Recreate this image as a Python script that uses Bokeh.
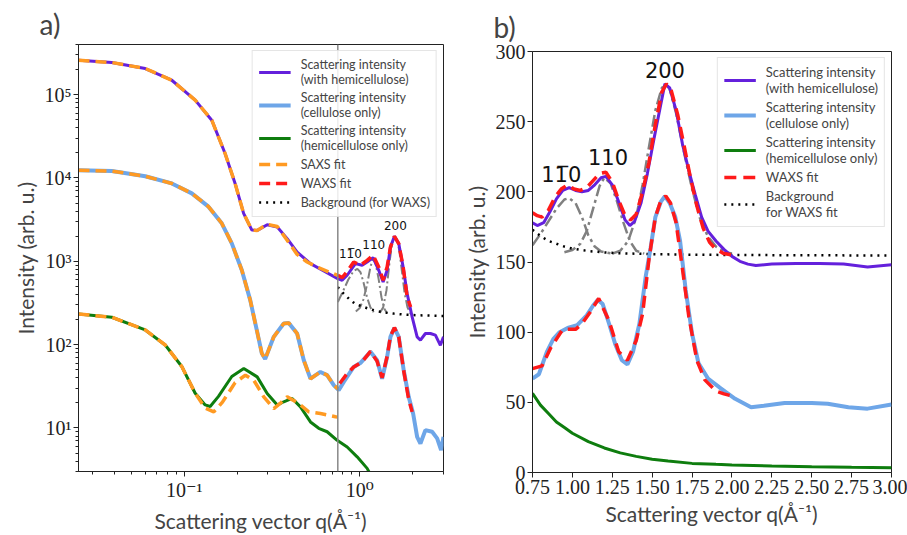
from bokeh.plotting import figure
from bokeh.models import (Range1d, FixedTicker, CustomJSTickFormatter, PrintfTickFormatter,
                          Legend, LegendItem, Span, Label)
from bokeh.layouts import row, column
from bokeh.embed import file_html
from bokeh.resources import INLINE

# ---------------- Panel a (log-log) ----------------
purple_a_q = [0.025, 0.0387, 0.060, 0.085, 0.1155, 0.1436, 0.171, 0.195, 0.218, 0.243, 0.261, 0.297, 0.339,
              0.386, 0.44, 0.524, 0.624, 0.749, 0.794, 0.848, 0.945, 1.032, 1.102, 1.192, 1.283, 1.359, 1.432,
              1.496, 1.576, 1.668, 1.767, 1.862, 1.988, 2.123, 2.217, 2.366, 2.527, 2.698, 2.88, 3.0]
purple_a_I = [2.59e5, 2.43e5, 2.06e5, 1.49e5, 8.6e4, 4.94e4, 1.97e4, 8.6e3, 3.76e3, 2.37e3, 2.35e3, 2.75e3, 2.58e3,
              1.87e3, 1.29e3, 938, 765, 620, 592, 680, 938, 895, 981, 1108, 780, 565, 780,
              1484, 1994, 1630, 855, 410, 215, 124, 113, 136, 136, 130, 98, 124]

blue_a_q = [0.025, 0.0387, 0.060, 0.085, 0.1105, 0.1375, 0.1637, 0.1867, 0.2128, 0.2376, 0.259, 0.2766, 0.2892,
            0.3237, 0.369, 0.394, 0.44, 0.48, 0.524, 0.597, 0.652, 0.711, 0.759, 0.811, 0.924, 1.008, 1.151,
            1.256, 1.341, 1.432, 1.496, 1.576, 1.668, 1.781, 1.901, 2.014, 2.123, 2.217, 2.366, 2.584, 2.76,
            2.908, 3.0]
blue_a_I = [1.24e4, 1.21e4, 1.05e4, 8.6e3, 6.54e3, 4.53e3, 2.86e3, 1.64e3, 786, 344, 150, 79, 67,
            124, 179, 182, 136, 65, 39, 47, 43, 32.6, 28.4, 35.7, 54, 60, 82,
            65, 39, 71, 124, 159, 124, 49, 23.6, 14.9, 7.8, 6.5, 9.4, 9.0, 7.5,
            5.4, 7.8]

green_a_q = [0.025, 0.0387, 0.060, 0.078, 0.0969, 0.1155, 0.1317, 0.1406, 0.1568, 0.1867, 0.2185, 0.2605, 0.297,
             0.339, 0.369, 0.412, 0.4595, 0.524, 0.584, 0.652, 0.7436, 0.848, 0.9665, 1.102, 1.18]
green_a_I = [233, 213, 150, 99, 54.6, 26.1, 18.9, 18.1, 23.9, 41.4, 51.7, 41, 25.9,
             18.8, 20.6, 22.6, 17.9, 11.8, 9.9, 9.0, 7.1, 5.9, 4.5, 3.27, 2.5]

saxs_top_q = [0.025, 0.0387, 0.060, 0.085, 0.1155, 0.1436, 0.171, 0.195, 0.218, 0.243, 0.261, 0.297, 0.339,
              0.386, 0.44, 0.502, 0.572, 0.666, 0.75]
saxs_top_I = [2.59e5, 2.43e5, 2.06e5, 1.49e5, 8.6e4, 4.94e4, 1.97e4, 8.6e3, 3.76e3, 2.37e3, 2.35e3, 2.78e3, 2.62e3,
              1.79e3, 1.21e3, 981, 855, 744, 679]

saxs_mid_q = [0.025, 0.0387, 0.060, 0.085, 0.1105, 0.1375, 0.1637, 0.1867, 0.2128, 0.2376, 0.259, 0.2766, 0.2892,
              0.3237, 0.369, 0.394, 0.44, 0.48, 0.524, 0.597, 0.652, 0.711, 0.75]
saxs_mid_I = [1.24e4, 1.21e4, 1.05e4, 8.6e3, 6.54e3, 4.53e3, 2.86e3, 1.64e3, 786, 344, 150, 79, 67,
              124, 179, 182, 136, 65, 39, 47, 43, 32.6, 29.5]

saxs_bot_q = [0.025, 0.0387, 0.060, 0.078, 0.0969, 0.1155, 0.1317, 0.1474, 0.1652, 0.195, 0.2233, 0.249, 0.284,
              0.3237, 0.355, 0.386, 0.449, 0.512, 0.597, 0.727, 0.75]
saxs_bot_I = [233, 213, 150, 99, 54.6, 26.1, 17.3, 15.6, 20.4, 35, 43, 37.4, 23.6,
              17.1, 20, 23.6, 19.7, 15.6, 14.9, 13.6, 13.5]

waxs_top_q = [0.75, 0.794, 0.85, 0.924, 1.009, 1.102, 1.192, 1.283, 1.359, 1.432, 1.496, 1.576, 1.668, 1.767,
              1.862, 1.95]
waxs_top_I = [679, 638, 760, 981, 895, 1028, 1180, 855, 592, 855, 1484, 1994, 1630, 855, 373, 283]

waxs_mid_q = [0.769, 0.848, 0.924, 1.032, 1.151, 1.256, 1.341, 1.432, 1.496, 1.576, 1.668, 1.781, 1.901, 1.988]
waxs_mid_I = [34.2, 45, 54, 62, 83, 63, 40, 72, 126, 160, 124, 48, 22, 15.6]

bg_a_q = [0.75, 0.80, 0.885, 0.95, 1.054, 1.15, 1.256, 1.40, 1.561, 1.80, 2.12, 2.50, 3.0]
bg_a_I = [490, 420, 341, 305, 283, 265, 252, 242, 236, 229, 225, 223, 221]

peak1_a_q = [0.75, 0.80, 0.86, 0.92, 0.97, 1.01, 1.05, 1.10, 1.15, 1.20]
peak1_a_I = [325, 430, 600, 760, 810, 740, 560, 370, 280, 245]
peak2_a_q = [0.95, 1.00, 1.05, 1.10, 1.15, 1.19, 1.23, 1.28, 1.33, 1.38, 1.43]
peak2_a_I = [250, 275, 350, 520, 850, 1080, 950, 620, 370, 270, 240]
peak3_a_q = [1.30, 1.36, 1.42, 1.48, 1.53, 1.58, 1.63, 1.68, 1.74, 1.80, 1.87, 1.95]
peak3_a_I = [240, 280, 450, 1000, 1650, 1990, 1850, 1350, 750, 420, 280, 235]

saxs_waxs_split = 0.75
peak_names = ["1\u0031\u03050", "110", "200"]
peak_lab_a_q = [0.885, 1.201, 1.597]
peak_lab_a_I = [1237, 1600, 2703]

# ---------------- Panel b (linear) ----------------
purple_b_q = [0.75, 0.78, 0.82, 0.86, 0.90, 0.94, 0.98, 1.02, 1.06, 1.10, 1.14, 1.18, 1.21, 1.25, 1.29, 1.33,
              1.36, 1.39, 1.43, 1.47, 1.51, 1.55, 1.58, 1.61, 1.65, 1.69, 1.73, 1.77, 1.81, 1.85, 1.90, 1.95,
              2.00, 2.05, 2.10, 2.15, 2.25, 2.40, 2.55, 2.70, 2.85, 3.00]
purple_b_I = [178, 176, 178, 186, 195, 201, 203, 201, 200, 201, 205, 210, 211, 205, 193, 180,
              176, 179, 192, 213, 237, 260, 277, 274, 258, 234, 215, 198, 182, 172, 165, 159,
              154, 150.5, 148.5, 147.5, 148.5, 149, 149, 148.5, 146.5, 148]

blue_b_q = [0.75, 0.79, 0.84, 0.88, 0.92, 0.97, 1.03, 1.09, 1.13, 1.16, 1.19, 1.23, 1.27, 1.31, 1.345, 1.38,
            1.42, 1.46, 1.49, 1.52, 1.555, 1.58, 1.61, 1.645, 1.675, 1.71, 1.75, 1.79, 1.85, 1.93, 2.02, 2.12,
            2.20, 2.33, 2.50, 2.60, 2.73, 2.85, 3.00]
blue_b_I = [67, 70, 86, 95, 100, 103, 105, 112, 119, 123, 120, 106, 91, 80, 77, 86,
            106, 140, 160, 182, 193, 197, 192, 182, 165, 130, 99, 78, 67, 60, 52.5, 46.5,
            47.5, 49.5, 49.5, 49, 46.5, 45.5, 48.5]

green_b_q = [0.75, 0.80, 0.85, 0.90, 0.95, 1.00, 1.10, 1.20, 1.30, 1.40, 1.50, 1.60, 1.75, 1.90, 2.00, 2.25,
             2.50, 2.75, 3.00]
green_b_I = [56.5, 48, 42, 36, 32, 28, 22, 17.5, 14, 11.5, 9.5, 8.2, 6.5, 5.8, 5.4, 4.6, 4.1, 3.7, 3.4]

waxs_b_top_q = [0.75, 0.78, 0.81, 0.85, 0.89, 0.93, 0.97, 1.01, 1.05, 1.09, 1.13, 1.17, 1.21, 1.25, 1.29, 1.33,
                1.365, 1.40, 1.44, 1.48, 1.52, 1.56, 1.59, 1.62, 1.66, 1.70, 1.74, 1.78, 1.82, 1.86, 1.90,
                1.95, 2.00]
waxs_b_top_I = [185, 183, 182, 187, 196, 202, 205, 202, 201, 203, 208, 213, 214, 207, 194, 183,
                180, 184, 200, 221, 248, 271, 277, 272, 255, 233, 210, 190, 174, 164, 159,
                156, 155]

waxs_b_mid_q = [0.75, 0.81, 0.865, 0.94, 1.02, 1.06, 1.11, 1.165, 1.23, 1.29, 1.345, 1.40, 1.44, 1.48, 1.52,
                1.555, 1.585, 1.615, 1.65, 1.69, 1.73, 1.78, 1.83, 1.90, 1.95, 2.00]
waxs_b_mid_I = [74, 76, 89, 102, 102, 106, 114, 124, 108, 86, 80, 94, 113, 152, 182,
                194, 197, 192, 178, 145, 111, 80, 66, 58, 56, 54.5]

bg_b_q = [0.75, 0.80, 0.85, 0.90, 0.95, 1.00, 1.10, 1.20, 1.30, 1.50, 1.75, 2.00, 2.50, 3.00]
bg_b_I = [173, 168.5, 165, 163, 161, 159.5, 157.8, 156.8, 156.2, 155.6, 155.2, 155, 154.8, 154.6]

peak1_b_q = [0.75, 0.80, 0.85, 0.90, 0.95, 0.98, 1.02, 1.06, 1.10, 1.14, 1.18, 1.25]
peak1_b_I = [162, 170, 179, 188, 194.5, 195.5, 192, 182, 169, 161, 157.5, 156]
peak2_b_q = [0.95, 1.00, 1.05, 1.09, 1.13, 1.17, 1.20, 1.24, 1.28, 1.32, 1.36, 1.40, 1.45]
peak2_b_I = [157, 158.5, 163, 172, 188, 204, 210, 206, 193, 178, 165, 158, 156]
peak3_b_q = [1.25, 1.30, 1.35, 1.40, 1.44, 1.48, 1.52, 1.56, 1.585, 1.61, 1.65, 1.70, 1.75, 1.80, 1.85, 1.90,
             1.96, 2.00]
peak3_b_I = [156, 158, 165, 182, 205, 232, 258, 274, 277, 273, 256, 228, 202, 181, 168, 161, 157, 156]

peak_lab_b_q = [0.93, 1.223, 1.58]
peak_lab_b_I = [211.7, 225, 286.6]

# ---------------- styles ----------------
C_PURPLE = "#6420dc"
C_BLUE = "#6ea6e8"
C_GREEN = "#0e7d0e"
C_ORANGE = "#ff9a22"
C_RED = "#ff1a1a"
C_GRAY = "#808080"
SANS = "Lato"
SERIF = "'Liberation Serif', 'DejaVu Serif', serif"

SUP = CustomJSTickFormatter(code="""
const s = {'-':'\u207b','0':'\u2070','1':'\u00b9','2':'\u00b2','3':'\u00b3','4':'\u2074',
           '5':'\u2075','6':'\u2076','7':'\u2077','8':'\u2078','9':'\u2079'};
const e = Math.round(Math.log10(tick));
return '10' + String(e).split('').map(c => s[c]).join('');
""")


def style_axes(p, standoff):
    p.outline_line_color = "#222222"
    p.outline_line_width = 1
    p.xgrid.visible = False
    p.ygrid.visible = False
    p.background_fill_color = "white"
    p.border_fill_color = "white"
    for ax in p.axis:
        ax.axis_line_color = "#222222"
        ax.major_tick_out = 5
        ax.major_tick_in = 0
        ax.minor_tick_out = 3
        ax.minor_tick_in = 0
        ax.major_tick_line_color = "#222222"
        ax.minor_tick_line_color = "#222222"
        ax.major_label_standoff = 2
        ax.major_label_text_font = SERIF
        ax.major_label_text_font_size = "20px"
        ax.major_label_text_color = "#222222"
        ax.axis_label_text_font = SANS
        ax.axis_label_text_font_size = "21px"
        ax.axis_label_text_font_style = "normal"
        ax.axis_label_standoff = 4
    p.title.text_font = SANS
    p.title.text_font_size = "28px"
    p.title.text_font_style = "normal"
    p.title.align = "left"
    p.title.offset = -39
    p.title.standoff = standoff


def make_legend(p, items, fs):
    leg = Legend(items=items, location="top_right")
    leg.label_text_font = SANS
    leg.label_text_font_size = fs
    leg.glyph_width = 32
    leg.glyph_height = 16
    leg.label_standoff = 10
    leg.spacing = 3
    leg.padding = 6
    leg.margin = 6
    leg.border_line_color = "#cccccc"
    leg.border_line_width = 1
    leg.background_fill_alpha = 0.85
    leg.label_text_line_height = 1.15
    p.add_layout(leg)


# ---------------- figure a ----------------
pa = figure(width=460, height=535, x_axis_type="log", y_axis_type="log",
            x_range=Range1d(0.025, 3.0), y_range=Range1d(3, 4e5),
            output_backend="svg", toolbar_location=None, title="a)",
            min_border_left=78, min_border_right=17, min_border_top=10, min_border_bottom=63)
style_axes(pa, 8)
pa.xaxis.axis_label = "Scattering vector q(\u00c5\u207b\u00b9)"
pa.yaxis.axis_label = "Intensity (arb. u.)"
pa.xaxis.ticker = FixedTicker(ticks=[0.1, 1.0],
                              minor_ticks=[m * 10.0 ** k for k in (-2, -1, 0) for m in range(2, 10)])
pa.yaxis.ticker = FixedTicker(ticks=[10.0 ** k for k in range(1, 6)],
                              minor_ticks=[m * 10.0 ** k for k in range(0, 6) for m in range(2, 10)])
pa.xaxis.formatter = SUP
pa.yaxis.formatter = SUP

pa.add_layout(Span(location=saxs_waxs_split, dimension="height", line_color="#888888", line_width=1.5))

for qq, ii in ((peak1_a_q, peak1_a_I), (peak2_a_q, peak2_a_I), (peak3_a_q, peak3_a_I)):
    pa.line(qq, ii, line_color=C_GRAY, line_width=2, line_dash="10 3 2 3")
r_bg_a = pa.line(bg_a_q, bg_a_I, line_color="black", line_width=2.5, line_dash="2 5")
r_pur_a = pa.line(purple_a_q, purple_a_I, line_color=C_PURPLE, line_width=3)
r_blu_a = pa.line(blue_a_q, blue_a_I, line_color=C_BLUE, line_width=4)
r_grn_a = pa.line(green_a_q, green_a_I, line_color=C_GREEN, line_width=3)
r_saxs = None
for qq, ii in ((saxs_top_q, saxs_top_I), (saxs_mid_q, saxs_mid_I), (saxs_bot_q, saxs_bot_I)):
    r = pa.line(qq, ii, line_color=C_ORANGE, line_width=3.5, line_dash="11 6")
    r_saxs = r_saxs or r
r_waxs_a = pa.line(waxs_top_q, waxs_top_I, line_color=C_RED, line_width=3.5, line_dash="11 6")
pa.line(waxs_mid_q, waxs_mid_I, line_color=C_RED, line_width=3.5, line_dash="11 6")

for name, qx, iy in zip(peak_names, peak_lab_a_q, peak_lab_a_I):
    pa.add_layout(Label(x=qx, y=iy, text=name, text_align="center", text_baseline="middle",
                        text_font="DejaVu Sans", text_font_size="12px", text_color="#111111"))

make_legend(pa, [
    LegendItem(label="Scattering intensity\n(with hemicellulose)", renderers=[r_pur_a]),
    LegendItem(label="Scattering intensity\n(cellulose only)", renderers=[r_blu_a]),
    LegendItem(label="Scattering intensity\n(hemicellulose only)", renderers=[r_grn_a]),
    LegendItem(label="SAXS fit", renderers=[r_saxs]),
    LegendItem(label="WAXS fit", renderers=[r_waxs_a]),
    LegendItem(label="Background (for WAXS)", renderers=[r_bg_a]),
], "12.5px")

# ---------------- figure b ----------------
pb = figure(width=447, height=535,
            x_range=Range1d(0.75, 3.0), y_range=Range1d(0, 300),
            output_backend="svg", toolbar_location=None, title="b)",
            min_border_left=71, min_border_right=16, min_border_top=10, min_border_bottom=63)
style_axes(pb, 15)
pb.xaxis.axis_label = "Scattering vector q(\u00c5\u207b\u00b9)"
pb.yaxis.axis_label = "Intensity (arb. u.)"
pb.xaxis.ticker = FixedTicker(ticks=[0.75 + 0.25 * k for k in range(10)], minor_ticks=[])
pb.yaxis.ticker = FixedTicker(ticks=[50 * k for k in range(7)], minor_ticks=[])
pb.xaxis.formatter = PrintfTickFormatter(format="%.2f")
pb.yaxis.formatter = PrintfTickFormatter(format="%d")

for qq, ii in ((peak1_b_q, peak1_b_I), (peak2_b_q, peak2_b_I), (peak3_b_q, peak3_b_I)):
    pb.line(qq, ii, line_color=C_GRAY, line_width=2.5, line_dash="12 4 3 4")
r_bg_b = pb.line(bg_b_q, bg_b_I, line_color="black", line_width=2.5, line_dash="2 5")
r_pur_b = pb.line(purple_b_q, purple_b_I, line_color=C_PURPLE, line_width=3)
r_blu_b = pb.line(blue_b_q, blue_b_I, line_color=C_BLUE, line_width=4)
r_grn_b = pb.line(green_b_q, green_b_I, line_color=C_GREEN, line_width=3)
r_waxs_b = pb.line(waxs_b_top_q, waxs_b_top_I, line_color=C_RED, line_width=3.5, line_dash="12 7")
pb.line(waxs_b_mid_q, waxs_b_mid_I, line_color=C_RED, line_width=3.5, line_dash="12 7")

for name, qx, iy in zip(peak_names, peak_lab_b_q, peak_lab_b_I):
    pb.add_layout(Label(x=qx, y=iy, text=name, text_align="center", text_baseline="middle",
                        text_font="DejaVu Sans", text_font_size="21px", text_color="#111111"))

make_legend(pb, [
    LegendItem(label="Scattering intensity\n(with hemicellulose)", renderers=[r_pur_b]),
    LegendItem(label="Scattering intensity\n(cellulose only)", renderers=[r_blu_b]),
    LegendItem(label="Scattering intensity\n(hemicellulose only)", renderers=[r_grn_b]),
    LegendItem(label="WAXS fit", renderers=[r_waxs_b]),
    LegendItem(label="Background\nfor WAXS fit", renderers=[r_bg_b]),
], "13px")

layout = row(column(pa), column(pb))
open("out.html", "w").write(file_html(layout, INLINE))
